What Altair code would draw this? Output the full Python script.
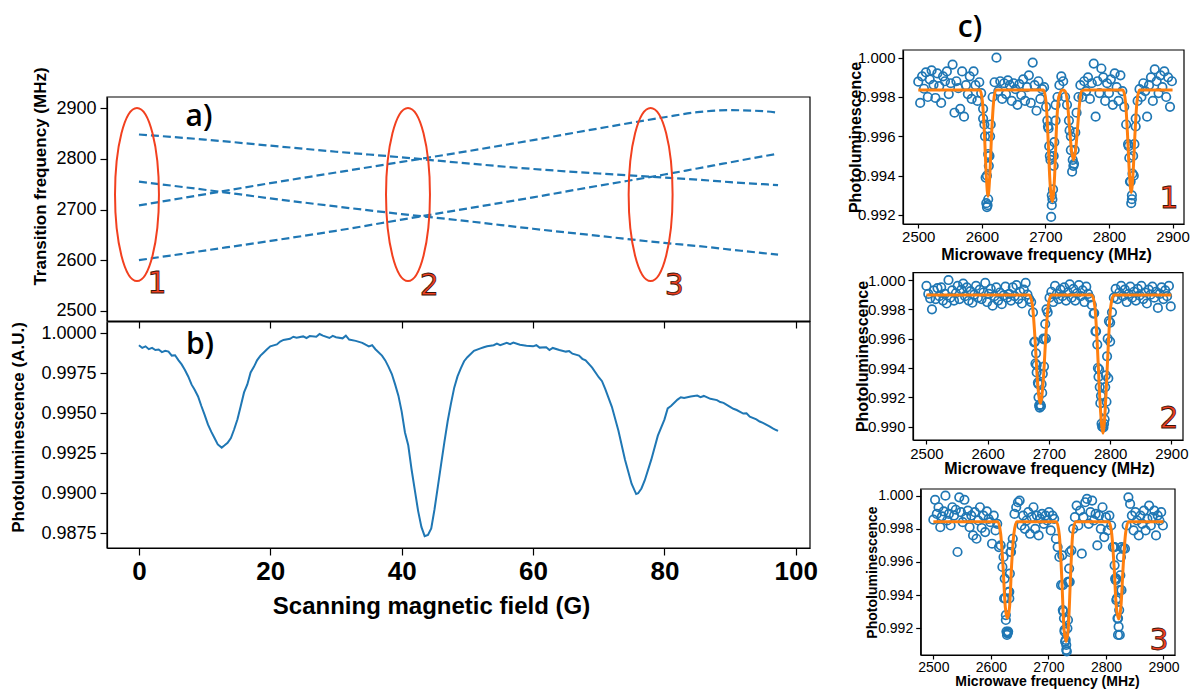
import altair as alt
import pandas as pd

FONT = "Liberation Sans"
BLUE = "#1f77b4"
ORANGE = "#ff7f0e"
RED = "#f2401f"

# ---------------- panel a : transition frequencies vs field ----------------
A_FIELD = [0, 10, 20, 30, 40, 50, 60, 70, 80, 85, 90, 95, 97.3]
A_LINE1 = [2848, 2838, 2826, 2814, 2803, 2791, 2780, 2771, 2763, 2759, 2754, 2750, 2748]
A_LINE2 = [2755, 2739, 2722, 2706, 2691, 2677, 2662, 2648, 2634, 2628, 2621, 2614, 2611]
A_LINE3 = [2708, 2730, 2752, 2773, 2794, 2815, 2837, 2860, 2882, 2892, 2896, 2894, 2891]
A_LINE4 = [2600, 2619, 2638, 2658, 2680, 2702, 2724, 2747, 2769, 2781, 2793, 2805, 2810]
A_ELLIPSE_FIELD = [-0.3, 40.96, 77.9]
A_ELLIPSE_FREQ = [2729.6, 2729.6, 2729.6]
A_NUM_FIELD = [2.75, 44.2, 81.5]
A_NUM_FREQ = [2553, 2549, 2549]
A_NUM_TEXT = ["1", "2", "3"]
A_XLIM = [-4.865, 102.165]
A_YLIM = [2480, 2922]

# ---------------- panel b : photoluminescence vs field ----------------
B_FIELD = [0, 0.5, 1, 1.5, 2, 2.5, 3, 3.5, 4, 4.5, 5, 5.5, 6, 6.5, 7, 7.5, 8, 8.5, 9, 9.5,
           10, 10.5, 11, 11.5, 12, 12.6, 13, 13.5, 14, 14.5, 15, 15.5, 16, 16.5, 17, 17.5,
           18, 18.5, 19, 19.5, 20, 21, 21.5, 22, 23, 23.5, 24, 25, 25.5, 26, 27, 27.5, 28,
           29, 29.5, 30, 31, 31.5, 32, 33, 34, 34.5, 35, 35.5, 36, 37, 37.5, 38, 38.5, 39,
           39.5, 40, 40.5, 41, 41.5, 42, 42.5, 43, 43.5, 44, 44.5, 45, 45.5, 46, 46.5, 47,
           47.5, 48, 48.5, 49, 49.5, 50, 51, 52, 52.5, 53, 54, 54.5, 55, 56, 56.5, 57, 58,
           59, 60, 60.5, 61, 62, 62.5, 63, 64, 65, 65.5, 66, 67, 67.5, 68, 69, 70, 70.5, 71,
           72, 73, 74, 75, 75.7, 76, 76.5, 77, 78, 79, 80, 80.5, 81, 82, 82.5, 83, 84, 85,
           85.5, 86, 87, 88, 88.5, 89, 90, 90.5, 91, 92, 92.5, 93, 94, 94.5, 95, 96, 96.5,
           97, 97.3]
B_PL = [0.99925, 0.99908, 0.99918, 0.99900, 0.99908, 0.99895, 0.99898, 0.99882, 0.99890, 0.99885,
        0.99860, 0.99862, 0.99832, 0.99805, 0.99770, 0.99730, 0.99680, 0.99645, 0.99605, 0.99545,
        0.99490, 0.99430, 0.99385, 0.99345, 0.99305, 0.99285, 0.99298, 0.99315, 0.99345, 0.99400,
        0.99462, 0.99545, 0.99630, 0.99680, 0.99755, 0.99790, 0.99832, 0.99860, 0.99880, 0.99900,
        0.99918, 0.99930, 0.99948, 0.99958, 0.99965, 0.99978, 0.99972, 0.99980, 0.99970, 0.99982,
        0.99978, 0.99995, 0.99985, 0.99970, 0.99983, 0.99975, 0.99968, 0.99985, 0.99960, 0.99952,
        0.99940, 0.99928, 0.99918, 0.99925, 0.99900, 0.99860, 0.99830, 0.99790, 0.99745, 0.99680,
        0.99610, 0.99510, 0.99380, 0.99300, 0.99150, 0.99020, 0.98890, 0.98790, 0.98732, 0.98740,
        0.98780, 0.98900, 0.99040, 0.99180, 0.99320, 0.99450, 0.99560, 0.99660, 0.99730, 0.99780,
        0.99825, 0.99850, 0.99890, 0.99905, 0.99912, 0.99918, 0.99925, 0.99935, 0.99925, 0.99940,
        0.99932, 0.99942, 0.99928, 0.99922, 0.99918, 0.99925, 0.99910, 0.99912, 0.99895, 0.99908,
        0.99895, 0.99885, 0.99888, 0.99872, 0.99860, 0.99840, 0.99830, 0.99785, 0.99725, 0.99700,
        0.99650, 0.99540, 0.99390, 0.99210, 0.99060, 0.98995, 0.99000, 0.99030, 0.99080, 0.99210,
        0.99360, 0.99460, 0.99530, 0.99545, 0.99585, 0.99600, 0.99595, 0.99605, 0.99610, 0.99600,
        0.99608, 0.99590, 0.99582, 0.99570, 0.99565, 0.99540, 0.99528, 0.99520, 0.99498, 0.99500,
        0.99478, 0.99462, 0.99448, 0.99440, 0.99418, 0.99405, 0.99395, 0.99390]
B_YLIM = [0.98658, 1.0007]

# ---------------- panel c : ODMR spectra (PL = 0.99 + n * 1e-5) ----------------
C_FREQ = list(range(2500, 2900, 3))
C1_N = [878, 770, 905, 842, 925, 800, 890, 935, 862, 795,
        920, 855, 770, 905, 880, 930, 815, 870, 965, 720,
        880, 845, 740, 930, 700, 860, 815, 905, 790, 930,
        860, 780, 875, 820, 740, 600, 400, 500, 660, 800,
        875, 1000, 830, 880, 790, 870, 815, 885, 860, 780,
        870, 840, 760, 865, 810, 890, 780, 850, 910, 770,
        975, 860, 730, 880, 790, 840, 850, 750, 650, 500,
        300, 450, 680, 800, 860, 905, 880, 800, 760, 680,
        600, 480, 530, 720, 800, 860, 800, 880, 830, 900,
        790, 870, 970, 700, 880, 820, 945, 900, 780, 870,
        820, 890, 760, 920, 850, 780, 910, 830, 750, 660,
        560, 370, 300, 400, 650, 780, 840, 800, 870, 830,
        700, 860, 900, 780, 940, 880, 820, 910, 850, 930,
        800, 900, 750, 880]
C1_DIP_FREQ = [2602, 2604, 2606, 2607, 2608, 2609, 2610, 2610, 2611, 2612, 2613,
               2703, 2705, 2706, 2708, 2709, 2710, 2711, 2712, 2713, 2714, 2716,
               2738, 2740, 2742, 2744, 2745, 2747,
               2831, 2832, 2834, 2835, 2836, 2837, 2838, 2840, 2842]
C1_DIP_N = [690, 660, 390, 260, 240, 250, 280, 510, 450, 500, 600,
            680, 640, 550, 480, 190, 250, 280, 330, 500, 570, 760,
            630, 530, 420, 450, 460, 620,
            550, 490, 370, 260, 280, 410, 500, 560, 690]
C1_FIT_FREQ = [2500, 2597, 2601, 2604, 2607, 2609.8, 2612.5, 2615.5, 2618.5, 2622,
               2697, 2701, 2704, 2707, 2711, 2714.5, 2717.5, 2721, 2727,
               2731, 2735, 2738, 2741, 2744.3, 2747.5, 2750.5, 2753.5, 2757, 2762,
               2822, 2826, 2829, 2832, 2835, 2838, 2841, 2844, 2848, 2900]
C1_FIT_PL = [0.99835, 0.99835, 0.99775, 0.99620, 0.99400, 0.99295, 0.99400, 0.99620, 0.99775, 0.99835,
             0.99835, 0.99775, 0.99600, 0.99380, 0.99268, 0.99400, 0.99650, 0.99800, 0.99835,
             0.99830, 0.99760, 0.99640, 0.99530, 0.99480, 0.99530, 0.99640, 0.99760, 0.99830, 0.99835,
             0.99835, 0.99775, 0.99620, 0.99420, 0.99314, 0.99420, 0.99620, 0.99775, 0.99835, 0.99835]

C2_N = [960, 905, 875, 800, 930, 870, 945, 890, 950, 860,
        905, 840, 1000, 880, 930, 860, 910, 960, 870, 935,
        975, 890, 950, 860, 925, 845, 900, 960, 880, 935,
        870, 915, 980, 850, 905, 940, 825, 890, 950, 860,
        915, 835, 895, 955, 880, 905, 860, 950, 890, 965,
        870, 920, 840, 935, 980, 900, 870, 850, 780, 580,
        420, 290, 150, 230, 410, 600, 780, 880, 920, 850,
        960, 905, 870, 935, 890, 950, 860, 915, 970, 880,
        940, 860, 910, 965, 890, 930, 850, 955, 905, 880,
        830, 770, 650, 560, 390, 210, 0, 50, 170, 330,
        580, 780, 880, 940, 870, 915, 960, 890, 935, 850,
        905, 955, 880, 920, 860, 940, 895, 960, 870, 915,
        840, 935, 900, 955, 880, 920, 810, 905, 950, 870,
        930, 890, 960, 820]
C2_DIP_FREQ = [2676, 2678, 2679, 2680, 2682, 2683, 2684, 2685, 2687, 2688, 2690, 2691, 2692, 2694, 2696,
               2774, 2777, 2780, 2781, 2783, 2784, 2786, 2787, 2789, 2790, 2791, 2792, 2793, 2795, 2796,
               2798, 2800]
C2_DIP_N = [575, 430, 500, 370, 300, 200, 145, 130, 140, 290, 360, 600, 595, 700, 800,
            775, 650, 400, 340, 270, 160, 20, 0, -5, 20, 110, 270, 350, 480, 600,
            720, 710]
C2_FIT_FREQ = [2500, 2668, 2673, 2677, 2681, 2686, 2691, 2695, 2699, 2704,
               2770, 2775, 2779, 2783, 2788.4, 2793, 2797, 2801, 2806, 2900]
C2_FIT_PL = [0.99898, 0.99898, 0.99830, 0.99620, 0.99330, 0.99159, 0.99330, 0.99620, 0.99830, 0.99898,
             0.99898, 0.99820, 0.99560, 0.99200, 0.98955, 0.99200, 0.99560, 0.99820, 0.99898, 0.99898]

C3_N = [855, 975, 890, 930, 810, 875, 905, 1000, 850, 890,
        820, 930, 880, 915, 660, 990, 900, 840, 975, 870,
        910, 810, 880, 760, 900, 740, 850, 930, 805, 880,
        780, 905, 860, 840, 710, 880, 790, 830, 690, 700,
        570, 380, 250, 170, 420, 660, 740, 890, 930, 960,
        970, 820, 880, 800, 850, 900, 770, 870, 930, 800,
        880, 760, 860, 890, 830, 880, 850, 900, 790, 880,
        860, 740, 690, 630, 460, 310, 190, 70, 250, 480,
        670, 800, 870, 940, 820, 910, 650, 870, 960, 980,
        830, 900, 970, 850, 890, 700, 880, 800, 930, 750,
        870, 790, 880, 820, 690, 580, 500, 260, 160, 430,
        680, 680, 820, 990, 950, 880, 790, 900, 850, 760,
        880, 830, 910, 790, 860, 940, 820, 870, 910, 760,
        880, 850, 900, 820]
C3_DIP_FREQ = [2622, 2624, 2625, 2626, 2627, 2628, 2629, 2630, 2631, 2632, 2633, 2634, 2636,
               2724, 2725, 2726, 2727, 2728, 2729, 2730, 2731, 2732, 2733, 2734, 2735, 2736, 2737,
               2815, 2816, 2817, 2818, 2819, 2820, 2821, 2822, 2823, 2824, 2825, 2826, 2827]
C3_DIP_N = [630, 500, 380, 280, 180, 160, 175, 180, 420, 380, 530, 660, 700,
            640, 460, 300, 260, 180, 120, 130, 100, 60, 200, 480, 480, 560, 660,
            690, 500, 490, 370, 380, 260, 160, 210, 310, 430, 520, 630, 690]
C3_FIT_FREQ = [2500, 2612, 2617, 2621, 2625, 2628.7, 2632.5, 2636, 2640, 2645,
               2714, 2719, 2723, 2727, 2730.7, 2734.5, 2738.5, 2742, 2747,
               2805, 2810, 2814, 2818, 2822.3, 2826, 2830, 2834, 2839, 2900]
C3_FIT_PL = [0.99843, 0.99843, 0.99770, 0.99580, 0.99330, 0.99260, 0.99330, 0.99580, 0.99770, 0.99843,
             0.99843, 0.99760, 0.99520, 0.99200, 0.99120, 0.99200, 0.99520, 0.99760, 0.99843,
             0.99843, 0.99770, 0.99580, 0.99330, 0.99256, 0.99330, 0.99580, 0.99770, 0.99843, 0.99843]

C_TICKS_X = [2500, 2600, 2700, 2800, 2900]
C1_LIM = ([2476, 2918], [0.99154, 1.00039])
C2_LIM = ([2478, 2919], [0.98909, 1.0005])
C3_LIM = ([2478, 2920], [0.99039, 1.0004])
C_NUM = [("1", 2894.4, 0.99281), ("2", 2896.2, 0.99052), ("3", 2892.2, 0.99123)]

# ------------- placement of each panel on the page (pixels) -------------
POS = {
    "a": dict(x=[107, 810], y=[321, 97]),
    "b": dict(x=[107, 810], y=[548, 322]),
    "c1": dict(x=[903, 1184], y=[224, 50]),
    "c2": dict(x=[913, 1183], y=[440, 272.7]),
    "c3": dict(x=[920.7, 1175], y=[655, 489]),
}
W, H = 1195, 689


def sc(domain, rng):
    return alt.Scale(domain=domain, range=rng, nice=False, zero=False)


def left_axis(x_px, values, fmt, lsize, title, tsize, tx, ty, tick=7, pad=4):
    return alt.Axis(orient="left", offset=-x_px, values=values, format=fmt,
                    labelFont=FONT, labelFontSize=lsize, labelColor="black",
                    labelPadding=pad, labelOverlap=False,
                    tickColor="black", tickSize=tick, tickWidth=1.2,
                    domainColor="black", domainWidth=1.2, grid=False,
                    title=title, titleFont=FONT, titleFontSize=tsize,
                    titleFontWeight="bold", titleColor="black",
                    titleX=tx - x_px, titleY=ty, titleAngle=270,
                    titleAlign="center", titleBaseline="middle")


def bottom_axis(y_px, values, lsize=15, bold=False, title=None, tsize=16, tx=0, ty=0,
                tick=6, pad=3, labels=True, fmt="d"):
    kw = dict(orient="bottom", offset=y_px - H, values=values, format=fmt,
              labels=labels, labelFont=FONT, labelFontSize=lsize, labelColor="black",
              labelFontWeight="bold" if bold else "normal", labelPadding=pad,
              labelOverlap=False, labelFlush=False,
              tickColor="black", tickSize=tick, tickWidth=1.2,
              domainColor="black", domainWidth=1.2, grid=False)
    if title:
        kw.update(title=title, titleFont=FONT, titleFontSize=tsize, titleFontWeight="bold",
                  titleColor="black", titleX=tx, titleY=ty - y_px,
                  titleAlign="center", titleBaseline="middle")
    else:
        kw.update(title=None)
    return alt.Axis(**kw)


def panel(xs, ys, xa, ya, layers_spec):
    """layers_spec: list of (dataframe, (mark method, mark kwargs), extra encodings)"""
    out = []
    for df, mark, extra in layers_spec:
        enc = dict(x=alt.X("x:Q", scale=xs, axis=xa), y=alt.Y("y:Q", scale=ys, axis=ya))
        enc.update(extra)
        out.append(getattr(alt.Chart(df), mark[0])(**mark[1]).encode(**enc))
    return alt.layer(*out)


def frame_df(xl, yl):
    return pd.DataFrame({"x": [xl[0]], "x2": [xl[1]], "y": [yl[0]], "y2": [yl[1]]})


FRAME = ("mark_rect", dict(fillOpacity=0, stroke="black", strokeWidth=1.2))
FRAME_ENC = dict(x2="x2:Q", y2="y2:Q")
NUM_MARK = ("mark_text", dict(font="DejaVu Sans", fontSize=30, fill=RED, stroke="#3a130a",
                              strokeWidth=0.8, align="center", baseline="middle"))
TAG_MARK = ("mark_text", dict(font="Open Sans", fontSize=30, fontWeight=600, color="black",
                              align="center", baseline="middle"))
ELLIPSE = "M -0.254 0 A 0.254 1 0 1 0 0.254 0 A 0.254 1 0 1 0 -0.254 0 Z"

# ---------------- panel a ----------------
xa_s = sc(A_XLIM, POS["a"]["x"])
ya_s = sc(A_YLIM, POS["a"]["y"])
xa_ax = bottom_axis(321, [0, 20, 40, 60, 80, 100], tick=7, labels=False)
ya_ax = left_axis(107, [2500, 2600, 2700, 2800, 2900], "d", 18,
                  "Transition frequency (MHz)", 17, 40, 176)
a_lines = pd.concat([
    pd.DataFrame({"x": A_FIELD, "y": vals, "s": name})
    for name, vals in [("l1", A_LINE1), ("l2", A_LINE2), ("l3", A_LINE3), ("l4", A_LINE4)]
])
panel_a = panel(xa_s, ya_s, xa_ax, ya_ax, [
    (frame_df(A_XLIM, A_YLIM), FRAME, FRAME_ENC),
    (a_lines, ("mark_line", dict(color=BLUE, strokeWidth=2.2, strokeDash=[8, 4],
                                 interpolate="monotone")), dict(detail="s:N")),
    (pd.DataFrame({"x": A_ELLIPSE_FIELD, "y": A_ELLIPSE_FREQ}),
     ("mark_point", dict(shape=ELLIPSE, size=29929, filled=False, stroke=RED,
                         strokeWidth=2, opacity=1)), {}),
    (pd.DataFrame({"x": A_NUM_FIELD, "y": A_NUM_FREQ, "t": A_NUM_TEXT}), NUM_MARK,
     dict(text="t:N")),
    (pd.DataFrame({"x": [9.14], "y": [2882.5], "t": ["a)"]}), TAG_MARK, dict(text="t:N")),
])

# ---------------- panel b ----------------
xb_s = sc(A_XLIM, POS["b"]["x"])
yb_s = sc(B_YLIM, POS["b"]["y"])
xb_ax = bottom_axis(548, [0, 20, 40, 60, 80, 100], lsize=26, bold=True,
                    title="Scanning magnetic field (G)", tsize=24, tx=431, ty=606,
                    tick=7, pad=3)
yb_ax = left_axis(107, [0.9875, 0.99, 0.9925, 0.995, 0.9975, 1.0], ".4f", 18,
                  "Photoluminescence (A.U.)", 17, 18, 427)
panel_b = panel(xb_s, yb_s, xb_ax, yb_ax, [
    (frame_df(A_XLIM, B_YLIM), FRAME, FRAME_ENC),
    (pd.DataFrame({"x": B_FIELD, "y": B_PL}),
     ("mark_line", dict(color=BLUE, strokeWidth=2)), {}),
    (pd.DataFrame({"x": [9.29], "y": [0.99926], "t": ["b)"]}), TAG_MARK, dict(text="t:N")),
])


# ---------------- panels c ----------------
def c_panel(key, lim, n_vals, dip_f, dip_n, fit_f, fit_pl, yticks, num, ytitle_xy,
            xtitle_xy, lsize=15, tsize=16, xpad=2, tag=None):
    xl, yl = lim
    xs = sc(xl, POS[key]["x"])
    ys = sc(yl, POS[key]["y"])
    xpx = POS[key]["x"][0]
    ypx = POS[key]["y"][0]
    xa = bottom_axis(ypx, C_TICKS_X, lsize=lsize, title="Microwave frequency (MHz)",
                     tsize=tsize, tx=xtitle_xy[0], ty=xtitle_xy[1], tick=4, pad=xpad)
    ya = left_axis(xpx, yticks, ".3f", lsize, "Photoluminescence", tsize,
                   ytitle_xy[0], ytitle_xy[1], tick=5, pad=3)
    pts = pd.DataFrame({"x": C_FREQ + dip_f,
                        "y": [0.99 + n * 1e-5 for n in n_vals + dip_n]})
    layers = [
        (frame_df(xl, yl), FRAME, FRAME_ENC),
        (pts, ("mark_point", dict(shape="circle", size=72, filled=False, stroke=BLUE,
                                  strokeWidth=1.7, opacity=1)), {}),
        (pd.DataFrame({"x": fit_f, "y": fit_pl}),
         ("mark_line", dict(color=ORANGE, strokeWidth=3, interpolate="monotone")), {}),
        (pd.DataFrame({"x": [num[1]], "y": [num[2]], "t": [num[0]]}), NUM_MARK,
         dict(text="t:N")),
    ]
    if tag:
        layers.append((pd.DataFrame({"x": [tag[1]], "y": [tag[2]], "t": [tag[0]]}),
                       TAG_MARK, dict(text="t:N")))
    return panel(xs, ys, xa, ya, layers)


C_YT1 = [0.992, 0.994, 0.996, 0.998, 1.0]
C_YT2 = [0.990, 0.992, 0.994, 0.996, 0.998, 1.0]
panel_c1 = c_panel("c1", C1_LIM, C1_N, C1_DIP_FREQ, C1_DIP_N, C1_FIT_FREQ, C1_FIT_PL,
                   C_YT1, C_NUM[0], (855, 137), (1046, 254), xpad=1,
                   tag=("c)", 2581.4, 1.00151))
panel_c2 = c_panel("c2", C2_LIM, C2_N, C2_DIP_FREQ, C2_DIP_N, C2_FIT_FREQ, C2_FIT_PL,
                   C_YT2, C_NUM[1], (862, 356), (1049, 468), xpad=2)
panel_c3 = c_panel("c3", C3_LIM, C3_N, C3_DIP_FREQ, C3_DIP_N, C3_FIT_FREQ, C3_FIT_PL,
                   C_YT1, C_NUM[2], (872, 572), (1047, 681), lsize=14, tsize=14, xpad=1)

chart = alt.layer(panel_a, panel_b, panel_c1, panel_c2, panel_c3).resolve_scale(
    x="independent", y="independent").resolve_axis(x="independent", y="independent").properties(
    width=W, height=H, autosize=alt.AutoSizeParams(type="none"), padding=0,
    background="white").configure_view(stroke=None)

chart.save("out.html", embed_options={"renderer": "svg", "actions": False})
